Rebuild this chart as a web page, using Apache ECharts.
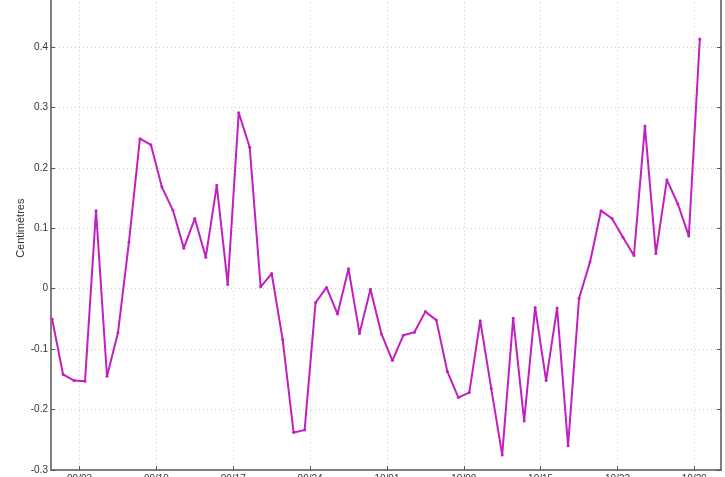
<!DOCTYPE html>
<html><head><meta charset="utf-8">
<script src="https://cdn.jsdelivr.net/npm/echarts@6/dist/echarts.min.js"></script>
<style>html,body{margin:0;padding:0;background:#fff}#c{width:725px;height:477px}</style>
</head><body><div id="c"></div>
<script>
const dates = ['08/31','09/01','09/02','09/03','09/04','09/05','09/06','09/07','09/08','09/09',
'09/10','09/11','09/12','09/13','09/14','09/15','09/16','09/17','09/18','09/19',
'09/20','09/21','09/22','09/23','09/24','09/25','09/26','09/27','09/28','09/29',
'09/30','10/01','10/02','10/03','10/04','10/05','10/06','10/07','10/08','10/09',
'10/10','10/11','10/12','10/13','10/14','10/15','10/16','10/17','10/18','10/19',
'10/20','10/21','10/22','10/23','10/24','10/25','10/26','10/27','10/28','10/29'];
const values = [-0.050,-0.142,-0.152,-0.153,0.129,-0.145,-0.073,0.077,0.248,0.238,
0.168,0.130,0.067,0.116,0.052,0.171,0.007,0.291,0.234,0.003,
0.025,-0.084,-0.238,-0.234,-0.023,0.002,-0.042,0.033,-0.074,-0.001,
-0.075,-0.119,-0.077,-0.072,-0.038,-0.052,-0.137,-0.180,-0.172,-0.053,
-0.165,-0.275,-0.049,-0.219,-0.031,-0.152,-0.032,-0.260,-0.016,0.044,
0.129,0.116,0.085,0.055,0.269,0.058,0.180,0.140,0.087,0.413];
const tickLabels = ['09/03','09/10','09/17','09/24','10/01','10/08','10/15','10/22','10/29'];

function dayOf(s){const [m,d]=s.split('/').map(Number);return (Date.UTC(2000,m-1,d)-Date.UTC(2000,8,3))/86400000;}
const seriesData = dates.map((d,i)=>[dayOf(d)+0.5, values[i]]);
const tickVals = tickLabels.map(dayOf);
const labelMap = {}; tickLabels.forEach(t=>labelMap[dayOf(t)]=t);

const axisColor = '#555';
const chart = echarts.init(document.getElementById('c'));
chart.setOption({
  animation:false,
  grid:{left:51,right:4,top:-13.6,bottom:7,containLabel:false,outerBoundsMode:'none'},
  xAxis:{type:'value',min:-2.6,max:58.43,
    axisLine:{show:true,onZero:false,lineStyle:{color:axisColor,width:1.5}},
    axisTick:{show:true,inside:true,length:4,customValues:tickVals,lineStyle:{color:axisColor}},
    axisLabel:{customValues:tickVals,formatter:v=>labelMap[Math.round(v)]||'',color:'#333',fontSize:10,fontFamily:'Liberation Sans',margin:4},
    splitLine:{show:true,lineStyle:{color:'#ccc',type:[1,3],width:1}}},
  yAxis:[{type:'value',min:-0.3,max:0.5,interval:0.1,
    name:'Centimètres',nameLocation:'middle',nameGap:25,nameMoveOverlap:false,nameTextStyle:{color:'#333',fontSize:11,fontFamily:'Liberation Sans'},
    axisLine:{show:true,onZero:false,lineStyle:{color:axisColor,width:1.5}},
    axisTick:{show:true,inside:true,length:4,lineStyle:{color:axisColor}},
    axisLabel:{color:'#333',fontSize:10,fontFamily:'Liberation Sans',margin:3,showMaxLabel:false,formatter:v=>{const r=Math.round(v*10)/10;return r===0?'0':String(r);}},
    splitLine:{show:true,lineStyle:{color:'#ccc',type:[1,3],width:1}}},
   {type:'value',min:-0.3,max:0.5,interval:0.1,position:'right',
    axisLine:{show:true,onZero:false,lineStyle:{color:axisColor,width:1.5}},
    axisTick:{show:true,inside:true,length:4,lineStyle:{color:axisColor}},
    axisLabel:{show:false},splitLine:{show:false}}],
  series:[{type:'line',data:seriesData,symbol:'circle',symbolSize:3,showSymbol:true,
    lineStyle:{color:'#c21fc2',width:2},itemStyle:{color:'#c21fc2'}}]
});
</script></body></html>
